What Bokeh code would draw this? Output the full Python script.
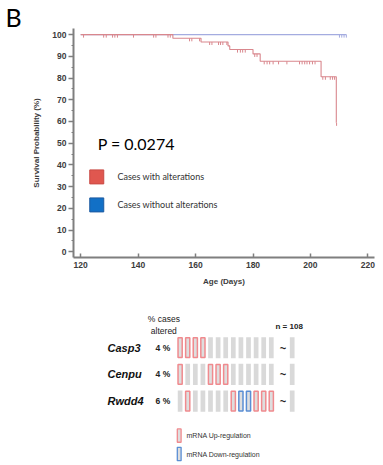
import numpy as np
from bokeh.plotting import figure
from bokeh.models import Range1d, FixedTicker, Label, ColumnDataSource
from bokeh.layouts import column
from bokeh.embed import file_html
from bokeh.resources import INLINE
from bokeh.core.properties import value

# ---------------- Kaplan-Meier data ----------------
# cases with alterations: event times (days) and survival (%) after each step
alt_times = [120, 152.1, 161.9, 171.3, 171.9, 180.0, 182.5, 203.7, 209.0]
alt_surv = [100, 98.3, 96.6, 94.8, 93.1, 91.1, 87.7, 80.6, 59.4]
alt_censored = [121.0, 128.0, 128.9, 131.1, 131.9, 132.8, 138.4, 145.4, 146.2,
                150.4, 151.2, 157.9, 158.7, 161.4, 164.9, 165.7, 168.0, 168.7,
                169.5, 170.9, 174.6, 175.6, 176.4, 177.3, 180.6, 181.4, 183.9,
                184.9, 185.8, 187.0, 188.9, 191.8, 196.2, 197.1, 198.0, 198.8,
                199.7, 200.7, 201.6, 204.3, 205.2, 206.9, 207.7, 208.4, 209.1]

# cases without alterations
noalt_times = [120, 212.5]
noalt_surv = [100, 100]
noalt_censored = [210.1, 210.9, 211.7, 212.5]

x_ticks = [120, 140, 160, 180, 200, 220]
y_ticks = [0, 10, 20, 30, 40, 50, 60, 70, 80, 90, 100]
p_value = "P = 0.0274"
group_labels = ["Cases with alterations", "Cases without alterations"]
group_colors = ["#e0574f", "#1270c6"]
group_edges = ["#c94a44", "#1d5aa0"]

# ---------------- oncoprint data ----------------
genes = ["Casp3", "Cenpu", "Rwdd4"]
pct_altered = [4, 4, 6]
n_cases = 108
casp3_calls = ["up", "up", "up", "up", "", "", "", "", "", "", "", "", ""]
cenpu_calls = ["up", "", "", "", "up", "up", "up", "", "", "", "", "", ""]
rwdd4_calls = ["", "up", "", "", "", "", "", "up", "down", "down", "up", "up", "up"]
gene_calls = [casp3_calls, cenpu_calls, rwdd4_calls]
legend_labels = ["mRNA Up-regulation", "mRNA Down-regulation"]

RED_LINE = "#d9878d"
BLUE_LINE = "#a4ace0"
AXIS_GREY = "#7f7f7f"
TEXT_GREY = "#3c3c3c"
ARIAL = "Liberation Sans"
CALIBRI = "Lato"

# ---------------- survival figure ----------------
p = figure(width=383, height=295, output_backend="svg", toolbar_location=None,
           x_range=Range1d(117.5, 222.3), y_range=Range1d(-2.6, 102.8),
           frame_width=301, frame_height=229,
           min_border_left=73, min_border_right=9, min_border_top=28, min_border_bottom=38)
p.outline_line_color = None
p.grid.visible = False
p.background_fill_color = "white"

# panel letter
p.title.text = "B"
p.title.align = "left"
p.title.offset = -68
p.title.standoff = -6
p.title.text_font = CALIBRI
p.title.text_font_style = "normal"
p.title.text_font_size = "25px"
p.title.text_color = "black"

p.step(noalt_times, noalt_surv, mode="after", line_color=BLUE_LINE, line_width=1.1)
p.step(alt_times, alt_surv, mode="after", line_color=RED_LINE, line_width=1.1)


def censor_levels(times, surv, cens):
    idx = np.searchsorted(times, cens, side="right") - 1
    return np.asarray(surv)[idx]


TICK_LEN = 1.4
alt_lv = censor_levels(alt_times, alt_surv, alt_censored)
p.segment(x0=alt_censored, y0=alt_lv, x1=alt_censored, y1=alt_lv - TICK_LEN,
          line_color=RED_LINE, line_width=1)
noalt_lv = censor_levels(noalt_times, noalt_surv, noalt_censored)
p.segment(x0=noalt_censored, y0=noalt_lv, x1=noalt_censored, y1=noalt_lv - TICK_LEN,
          line_color=BLUE_LINE, line_width=1)

# axes
xa = p.xaxis[0]
xa.ticker = FixedTicker(ticks=x_ticks)
xa.axis_label = "Age (Days)"
xa.major_tick_in = 4
xa.major_tick_out = 0
xa.major_label_standoff = 4
xa.axis_label_standoff = 6

ya = p.yaxis[0]
ya.ticker = FixedTicker(ticks=y_ticks, minor_ticks=[v + 5 for v in y_ticks[:-1]])
ya.axis_label = "Survival Probability (%)"
ya.major_tick_in = 0
ya.major_tick_out = 5
ya.minor_tick_in = 0
ya.minor_tick_out = 2
ya.major_label_standoff = 2
ya.axis_label_standoff = 8

for ax in (xa, ya):
    ax.axis_line_color = AXIS_GREY
    ax.axis_line_width = 2
    ax.major_tick_line_color = AXIS_GREY
    ax.major_tick_line_width = 1.5
    ax.minor_tick_line_color = AXIS_GREY if ax is ya else None
    ax.major_label_text_font = ARIAL
    ax.major_label_text_font_style = "bold"
    ax.major_label_text_font_size = "8.5px"
    ax.major_label_text_color = TEXT_GREY
    ax.axis_label_text_font = ARIAL
    ax.axis_label_text_font_style = "bold"
    ax.axis_label_text_font_size = "8px"
    ax.axis_label_text_color = TEXT_GREY

# p-value
p.add_layout(Label(x=125.9, y=49.9, text=p_value, text_font=CALIBRI,
                   text_font_size="16px", text_color="black", text_baseline="middle"))

# group key: square swatches with labels
key_x = 125.6
key_y = [34.5, 21.6]
p.rect(x=[key_x] * 2, y=key_y, width=14, height=14, width_units="screen",
       height_units="screen", fill_color=group_colors, line_color=group_edges, line_width=1)
p.text(x=[key_x + 7.2] * 2, y=key_y, text=group_labels, text_baseline="middle",
       text_font=value(CALIBRI), text_font_size="9px", text_color="#333333")

# ---------------- oncoprint ----------------
CELL_GREY = "#d9d9d9"
CALL_COLORS = {"up": "#f08a8e", "down": "#5a8ed4"}
tilde_slot = 13.55
tail_slot = 14.75

q = figure(width=383, height=170, output_backend="svg", toolbar_location=None,
           x_range=Range1d(-14.03, 25.58), y_range=Range1d(4.41, -1.955),
           frame_width=301, frame_height=170,
           x_axis_location=None, y_axis_location=None,
           min_border_left=73, min_border_right=9, min_border_top=0, min_border_bottom=0)
q.outline_line_color = None
q.grid.visible = False

plain = dict(x=[], y=[])
alt = dict(x=[], y=[], c=[])
for row, calls in enumerate(gene_calls):
    for slot, call in enumerate(calls):
        if call:
            alt["x"].append(slot); alt["y"].append(row); alt["c"].append(CALL_COLORS[call])
        else:
            plain["x"].append(slot); plain["y"].append(row)
    plain["x"].append(tail_slot); plain["y"].append(row)

q.rect(x="x", y="y", width=0.62, height=0.79, source=ColumnDataSource(plain),
       fill_color=CELL_GREY, line_color=None)
q.rect(x="x", y="y", width=0.55, height=0.74, source=ColumnDataSource(alt),
       fill_color="#dedede", line_color="c", line_width=1.5)

rows = list(range(len(genes)))
q.text(x=[-9.55] * len(genes), y=rows, text=genes, text_align="left", text_baseline="middle",
       text_font=value(ARIAL), text_font_style="bold italic", text_font_size="11px",
       text_color="#111111")
q.text(x=[-1.3] * len(genes), y=rows, text=[f"{v} %" for v in pct_altered],
       text_align="right", text_baseline="middle", text_font=value(ARIAL),
       text_font_style="bold", text_font_size="8.5px", text_color="#222222")
q.text(x=[tilde_slot] * len(genes), y=rows, text=["~"] * len(genes), text_align="center",
       text_baseline="middle", text_font=value(ARIAL), text_font_style="bold",
       text_font_size="11px", text_color="#222222")
q.text(x=[-2.14, -2.14], y=[-1.08, -0.64], text=["% cases", "altered"], text_align="center",
       text_baseline="middle", text_font=value(ARIAL), text_font_size="8.5px",
       text_color="#222222")
q.text(x=[tail_slot - 0.4], y=[-0.79], text=[f"n = {n_cases}"], text_align="center",
       text_baseline="middle", text_font=value(ARIAL), text_font_style="bold",
       text_font_size="8px", text_color="#222222")

# alteration-type legend
leg_rows = [3.29, 3.98]
q.rect(x=[-0.12, -0.12], y=leg_rows, width=0.5, height=0.5, fill_color="#dedede",
       line_color=[CALL_COLORS["up"], CALL_COLORS["down"]], line_width=1.3)
q.text(x=[0.84, 0.84], y=leg_rows, text=legend_labels, text_baseline="middle",
       text_font=value(ARIAL), text_font_size="7px", text_color="#333333")

layout = column(p, q)
open("out.html", "w").write(file_html(layout, INLINE))
